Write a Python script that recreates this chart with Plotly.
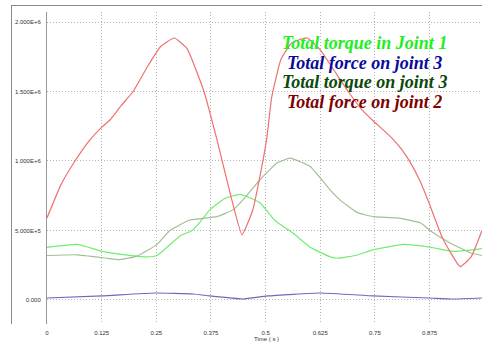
import plotly.graph_objects as go

# ---- data (values in units of 1e6) ----
t_force2 = [0, 0.032, 0.064, 0.095, 0.126, 0.144, 0.17, 0.197, 0.23, 0.259, 0.291, 0.32, 0.359, 0.389,
            0.42, 0.446, 0.47, 0.492, 0.503, 0.514, 0.535, 0.56, 0.595, 0.625, 0.655, 0.689, 0.72, 0.744,
            0.789, 0.812, 0.831, 0.854, 0.876, 0.904, 0.945, 0.97, 0.995]
v_force2 = [0.59, 0.83, 1.0, 1.14, 1.245, 1.295, 1.40, 1.50, 1.68, 1.82, 1.885, 1.81, 1.50, 1.15,
            0.755, 0.47, 0.64, 0.97, 1.17, 1.46, 1.73, 1.85, 1.885, 1.80, 1.66, 1.50, 1.37, 1.295,
            1.165, 1.08, 0.99, 0.85, 0.68, 0.45, 0.24, 0.31, 0.50]

t_torque1 = [0, 0.069, 0.126, 0.167, 0.229, 0.252, 0.304, 0.332, 0.35, 0.373, 0.407, 0.442, 0.487,
             0.522, 0.563, 0.602, 0.648, 0.664, 0.705, 0.746, 0.815, 0.876, 0.929, 0.995]
v_torque1 = [0.378, 0.40, 0.35, 0.33, 0.31, 0.32, 0.46, 0.50, 0.56, 0.65, 0.73, 0.76, 0.70,
             0.57, 0.48, 0.38, 0.31, 0.30, 0.32, 0.36, 0.40, 0.38, 0.35, 0.37]

t_torque3 = [0, 0.069, 0.137, 0.167, 0.206, 0.252, 0.281, 0.327, 0.389, 0.426, 0.458, 0.487, 0.526,
             0.556, 0.602, 0.648, 0.670, 0.709, 0.746, 0.801, 0.854, 0.876, 0.922, 0.968, 0.995]
v_torque3 = [0.32, 0.325, 0.30, 0.29, 0.315, 0.40, 0.50, 0.575, 0.60, 0.65, 0.755, 0.865, 0.985,
             1.02, 0.96, 0.79, 0.72, 0.63, 0.60, 0.59, 0.555, 0.50, 0.41, 0.34, 0.32]

t_force3 = [0, 0.126, 0.247, 0.335, 0.372, 0.448, 0.504, 0.625, 0.746, 0.876, 0.929, 0.995]
v_force3 = [0.014, 0.029, 0.05, 0.043, 0.029, 0.007, 0.029, 0.05, 0.029, 0.014, 0.007, 0.014]

x_tick_vals = [0, 0.125, 0.25, 0.375, 0.5, 0.625, 0.75, 0.875]
x_tick_text = ["0", "0.125", "0.25", "0.375", "0.5", "0.625", "0.75", "0.875"]
y_tick_vals = [0, 0.5e6, 1.0e6, 1.5e6, 2.0e6]
y_tick_text = ["0.000", "5.000E+5", "1.000E+6", "1.500E+6", "2.000E+6"]

legend_labels = ["Total torque in Joint 1", "Total force on joint 3",
                 "Total torque on joint 3", "Total force on joint 2"]
legend_colors = ["#22ee22", "#0a0a99", "#0a4a0a", "#800000"]

series = [
    (t_torque1, v_torque1, "#70ee70", legend_labels[0]),
    (t_force3, v_force3, "#6a6ac0", legend_labels[1]),
    (t_torque3, v_torque3, "#a0c094", legend_labels[2]),
    (t_force2, v_force2, "#f07070", legend_labels[3]),
]

fig = go.Figure()
# empty trace on the frame axes so that the outer frame subplot is drawn
fig.add_trace(go.Scatter(x=[], y=[], xaxis="x2", yaxis="y2", showlegend=False, hoverinfo="skip"))
for tx, vy, col, name in series:
    fig.add_trace(go.Scatter(x=tx, y=[v * 1e6 for v in vy], mode="lines", name=name,
                             line=dict(color=col, width=1.2, shape="spline", smoothing=0.4)))

W, H = 482, 343
ml, mt, mb, mr = 12, 6, 19, 0          # paper margins (outer frame at x=12, y=6)
pw, ph = W - ml - mr, H - mt - mb      # 470 x 318
plot_left, plot_top, plot_bottom = 47, 12, 324

def px(x):
    return (x - ml) / pw

def py(y):
    return (H - mb - y) / ph

fig.update_layout(
    width=W, height=H,
    margin=dict(l=ml, r=mr, t=mt, b=mb, pad=0, autoexpand=False),
    paper_bgcolor="white", plot_bgcolor="rgba(0,0,0,0)",
    showlegend=False,
    font=dict(family="Liberation Sans", size=6, color="#333333"),
)
grid_kw = dict(showgrid=True, gridcolor="#b4b4b4", griddash="1px,2px", gridwidth=1, zeroline=False)
fig.update_layout(
    xaxis=dict(domain=[px(plot_left), 1], range=[0, 0.995], tickvals=x_tick_vals, ticktext=x_tick_text,
               automargin=False, showline=False, ticks="outside", ticklen=3,
               tickcolor="rgba(0,0,0,0)", tickfont=dict(size=6, color="#333"), anchor="y", **grid_kw),
    yaxis=dict(domain=[0, py(plot_top)], range=[-0.173e6, 2.072e6], tickvals=y_tick_vals,
               ticktext=y_tick_text, automargin=False, showline=True, linecolor="#999999",
               linewidth=1, ticks="outside", ticklen=4, tickcolor="rgba(0,0,0,0)",
               tickfont=dict(size=6, color="#333"), anchor="x", **grid_kw),
    xaxis2=dict(domain=[0, 1], range=[0, 1], anchor="y2", side="top", showline=True,
                linecolor="#8a8a8a", linewidth=1, showgrid=False, zeroline=False,
                showticklabels=False, ticks="", automargin=False),
    yaxis2=dict(domain=[0, 1], range=[0, 1], anchor="x2", side="left", showline=True,
                linecolor="#8a8a8a", linewidth=1, showgrid=False, zeroline=False,
                showticklabels=False, ticks="", automargin=False),
)

# axis title
fig.add_annotation(text="Time ( s )", xref="paper", yref="paper", x=px(266), y=py(339),
                   showarrow=False, font=dict(size=6, color="#333"),
                   xanchor="center", yanchor="middle")

# legend as text lines
legend_y = [43, 63, 82, 102]
for lab, col, yy in zip(legend_labels, legend_colors, legend_y):
    fig.add_annotation(text="<b><i>" + lab + "</i></b>", xref="paper", yref="paper",
                       x=px(364), y=py(yy), showarrow=False,
                       xanchor="center", yanchor="middle",
                       font=dict(family="Liberation Serif, Times New Roman, serif", size=18, color=col))

fig.write_html("out.html", config={"displayModeBar": False},
               post_script="document.body.style.margin='0';document.body.style.overflow='hidden';")
